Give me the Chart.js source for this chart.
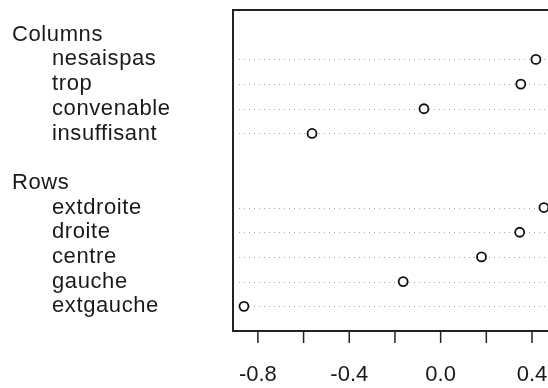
<!DOCTYPE html>
<html>
<head>
<meta charset="utf-8">
<script src="https://cdn.jsdelivr.net/npm/chart.js@4/dist/chart.umd.min.js"></script>
<style>
  html, body { margin: 0; padding: 0; background: #fff; }
  #chart { display: block; }
</style>
</head>
<body>
<canvas id="chart" width="548" height="388"></canvas>
<script>
// données
const columnLabels = ['nesaispas', 'trop', 'convenable', 'insuffisant'];
const columnValues = [0.417, 0.351, -0.073, -0.563];
const rowLabels = ['extdroite', 'droite', 'centre', 'gauche', 'extgauche'];
const rowValues = [0.452, 0.346, 0.179, -0.164, -0.861];
const xTicks = [-0.8, -0.6, -0.4, -0.2, 0.0, 0.2, 0.4];
const xTickLabels = ['-0.8', '', '-0.4', '', '0.0', '', '0.4'];

const FONT = '"Liberation Sans", Arial, sans-serif';

// positions verticales : en-tête, items, ligne vide, en-tête, items
const slots = [];
slots.push({ text: 'Columns', header: true });
columnLabels.forEach((l, i) => slots.push({ text: l, value: columnValues[i] }));
slots.push({ text: '', header: true });
slots.push({ text: 'Rows', header: true });
rowLabels.forEach((l, i) => slots.push({ text: l, value: rowValues[i] }));

const points = [];
slots.forEach((s, i) => { if (!s.header) points.push({ x: s.value, y: i }); });

const dotPlotDecor = {
    id: 'dotPlotDecor',
    beforeDatasetsDraw(chart) {
        const { ctx, chartArea, scales } = chart;
        ctx.save();
        // lignes pointillées
        ctx.strokeStyle = '#a8a8a8';
        ctx.lineWidth = 1;
        ctx.setLineDash([1, 4]);
        slots.forEach((s, i) => {
            if (s.header) return;
            const y = Math.round(scales.y.getPixelForValue(i)) + 0.5;
            ctx.beginPath();
            ctx.moveTo(chartArea.left + 6, y);
            ctx.lineTo(chartArea.right, y);
            ctx.stroke();
        });
        ctx.restore();
    },
    afterDraw(chart) {
        const { ctx, chartArea, scales } = chart;
        ctx.save();
        // cadre (côté droit hors image)
        ctx.strokeStyle = '#222';
        ctx.lineWidth = 2;
        ctx.beginPath();
        ctx.moveTo(chartArea.right + 4, chartArea.top);
        ctx.lineTo(chartArea.left, chartArea.top);
        ctx.lineTo(chartArea.left, chartArea.bottom);
        ctx.lineTo(chartArea.right + 4, chartArea.bottom);
        ctx.stroke();

        // graduations de l'axe x
        ctx.lineWidth = 1.5;
        ctx.font = '22px ' + FONT;
        ctx.fillStyle = '#1a1a1a';
        ctx.textAlign = 'center';
        ctx.textBaseline = 'alphabetic';
        xTicks.forEach((v, i) => {
            const x = scales.x.getPixelForValue(v);
            ctx.beginPath();
            ctx.moveTo(x, chartArea.bottom);
            ctx.lineTo(x, chartArea.bottom + 12);
            ctx.stroke();
            if (xTickLabels[i]) ctx.fillText(xTickLabels[i], x, chartArea.bottom + 50);
        });

        // étiquettes à gauche
        ctx.font = '22px ' + FONT;
        ctx.letterSpacing = '0.6px';
        ctx.textAlign = 'left';
        ctx.textBaseline = 'middle';
        slots.forEach((s, i) => {
            if (!s.text) return;
            const y = scales.y.getPixelForValue(i);
            ctx.fillText(s.text, s.header ? 12 : 52, y);
        });
        ctx.restore();
    }
};

new Chart(document.getElementById('chart'), {
    type: 'scatter',
    data: {
        datasets: [{
            data: points,
            pointStyle: 'circle',
            radius: 4.5,
            hoverRadius: 4.5,
            borderWidth: 1.8,
            borderColor: '#111',
            backgroundColor: '#fff',
            clip: false
        }]
    },
    options: {
        responsive: false,
        animation: false,
        layout: { autoPadding: false, padding: { left: 233, right: 0, top: 10, bottom: 57 } },
        plugins: { legend: { display: false }, tooltip: { enabled: false } },
        scales: {
            x: { type: 'linear', display: false, min: -0.909, max: 0.47 },
            y: { type: 'linear', display: false, reverse: true, min: -1, max: 12 }
        }
    },
    plugins: [dotPlotDecor]
});
</script>
</body>
</html>
